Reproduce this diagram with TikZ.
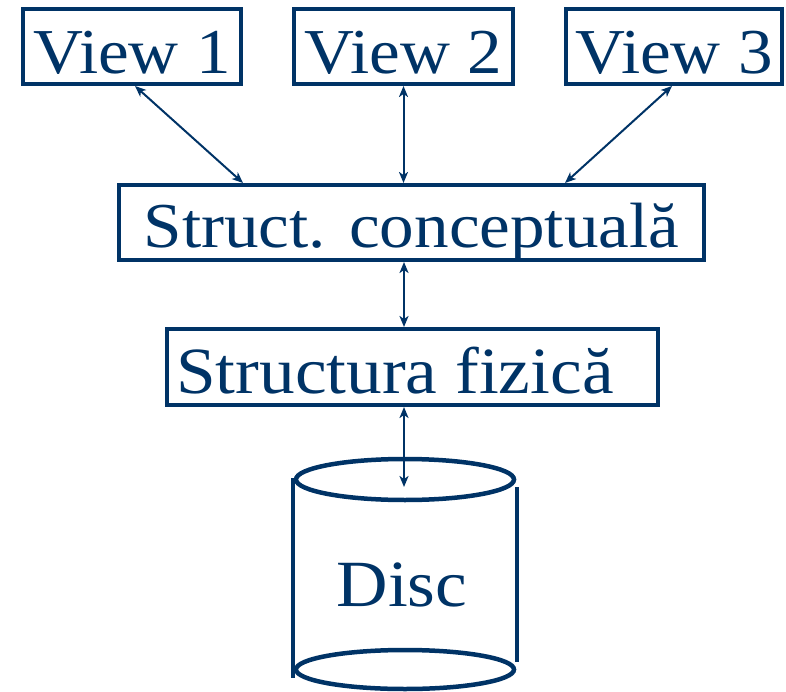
\documentclass[tikz,border=0pt]{standalone}
\usepackage{fontspec}
\setmainfont{Liberation Serif}[FakeStretch=1.08]
\usetikzlibrary{arrows.meta}
\definecolor{navy}{RGB}{0,51,102}
\begin{document}
\begin{tikzpicture}[x=1pt,y=-1pt,
  box/.style={draw=navy, line width=4pt, inner sep=0pt, text=navy, text depth=0pt, anchor=center},
  link/.style={draw=navy, line width=2pt, {Stealth[length=11pt,width=9pt,inset=3pt]}-{Stealth[length=11pt,width=9pt,inset=3pt]}},
  cyl/.style={draw=navy, line width=4.5pt}
]
\useasboundingbox (0,0) rectangle (786,692);
% view boxes
\node[box, minimum width=218pt, minimum height=75pt, text height=54pt, font=\fontsize{64}{72}\selectfont] (v1) at (132,46.5) {View 1};
\node[box, minimum width=219pt, minimum height=75pt, text height=54pt, font=\fontsize{64}{72}\selectfont] (v2) at (403.5,46.5) {View 2};
\node[box, minimum width=216pt, minimum height=75pt, text height=54pt, font=\fontsize{64}{72}\selectfont] (v3) at (674,46.5) {View 3};
% conceptual structure
\node[box, minimum width=585pt, minimum height=75pt, text height=51pt, font=\fontsize{64}{72}\selectfont] (sc) at (411.5,222.5) {Struct. conceptuală};
% physical structure
\node[box, minimum width=491pt, minimum height=76pt, text height=52pt, font=\fontsize{66}{74}\selectfont] (sf) at (412.5,367) {Structura fizică\kern35pt};
% disc cylinder
\draw[cyl] (405,479.5) ellipse [x radius=109, y radius=20.5];
\draw[cyl] (405,669.5) ellipse [x radius=109, y radius=19.5];
\draw[cyl] (293,478) -- (293,678);
\draw[cyl] (517,487) -- (517,662);
\node[text=navy, anchor=base, inner sep=0pt, font=\fontsize{66}{74}\selectfont] (disc) at (402,606) {Disc};
\coordinate (disctop) at (404,487);
% connectors
\draw[link] ([xshift=3pt]v1.south) -- ([xshift=-168.5pt]sc.north);
\draw[link] (v2.south) -- (v2.south |- sc.north);
\draw[link] ([xshift=-2pt]v3.south) -- ([xshift=153.5pt]sc.north);
\draw[link] ([xshift=-7.5pt]sc.south) -- ([xshift=-7.5pt]sc.south |- sf.north);
\draw[link] (sf.south -| disctop) -- (disctop);
\end{tikzpicture}
\end{document}
